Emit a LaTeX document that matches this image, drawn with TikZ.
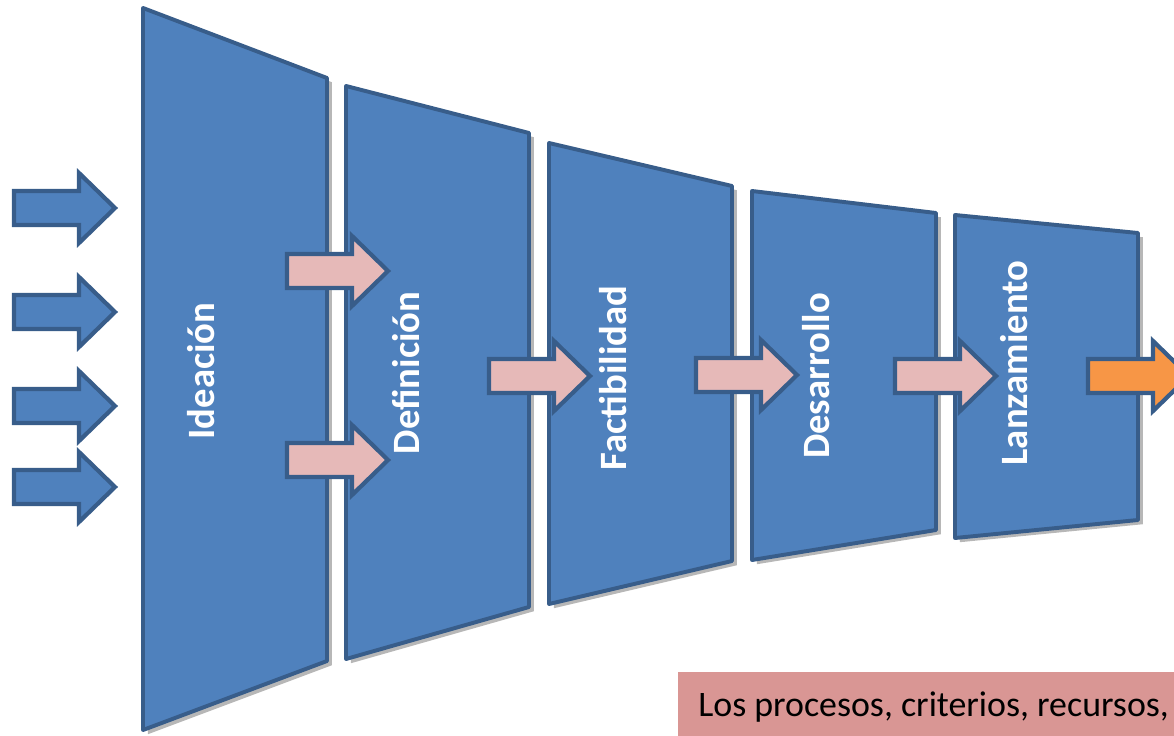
\documentclass[tikz,border=0pt]{standalone}
\usepackage{fontspec}
\setmainfont{Carlito}
\usetikzlibrary{shadows}
\definecolor{stageblue}{HTML}{4F81BD}
\definecolor{stageline}{HTML}{385D8A}
\definecolor{flowpink}{HTML}{E6B9B8}
\definecolor{outorange}{HTML}{F79646}
\definecolor{notered}{HTML}{D99694}
\tikzset{
  stage/.style={fill=stageblue, draw=stageline, line width=2.8pt, line join=round,
    drop shadow={shadow xshift=3.5pt, shadow yshift=-3pt, opacity=0.4, fill=black!70}},
  stagelabel/.style={rotate=90, text=white, inner sep=0pt, font=\bfseries\fontsize{27.5}{30}\selectfont},
  blockarrow/.pic={\draw[pic actions] (0,-17) -- (65,-17) -- (65,-35) -- (101,0) -- (65,35) -- (65,17) -- (0,17) -- cycle;},
  inarrow/.style={fill=stageblue, draw=stageline, line width=3pt},
  flowarrow/.style={fill=flowpink, draw=stageline, line width=3pt},
  outarrow/.style={fill=outorange, draw=stageline, line width=3pt}
}
\begin{document}
\begin{tikzpicture}[x=0.025cm, y=-0.025cm]
            \useasboundingbox (0,0) rectangle (1174,735);
            \clip (0,0) rectangle (1174,735);
            % stages
            \draw[stage] (143,8) -- (327,78) -- (327,661) -- (143,730) -- cycle;
            \draw[stage] (346,86) -- (529,133) -- (529,607) -- (346,659) -- cycle;
            \draw[stage] (549,143) -- (732,186) -- (732,561) -- (549,604) -- cycle;
            \draw[stage] (752,191) -- (936,213) -- (936,530) -- (752,560) -- cycle;
            \draw[stage] (955,215) -- (1138,233) -- (1138,520) -- (955,538) -- cycle;
            \node[stagelabel] (ideacion) at (201,371) {Ideación};
            \node[stagelabel] (definicion) at (406,373) {Definición};
            \node[stagelabel] (factibilidad) at (613,378) {Factibilidad};
            \node[stagelabel] (desarrollo) at (816,376) {Desarrollo};
            \node[stagelabel] (lanzamiento) at (1014,363) {Lanzamiento};
            % arrows
            \foreach \y in {208,312,406,487}
                \pic[inarrow] at (14,\y) {blockarrow};
            \pic[flowarrow] at (287,271) {blockarrow};
            \pic[flowarrow] at (287,460) {blockarrow};
            \pic[flowarrow] at (489,376) {blockarrow};
            \pic[flowarrow] at (696,375) {blockarrow};
            \pic[flowarrow] at (895,376) {blockarrow};
            \pic[outarrow] at (1088,376) {blockarrow};
            % note
            \fill[notered] (678,672) rectangle (1180,745);
            \node[anchor=base west, inner sep=0pt, font=\fontsize{25.5}{30}\selectfont] (nota) at (698,716) {Los procesos, criterios, recursos,};
        \end{tikzpicture}
\end{document}
